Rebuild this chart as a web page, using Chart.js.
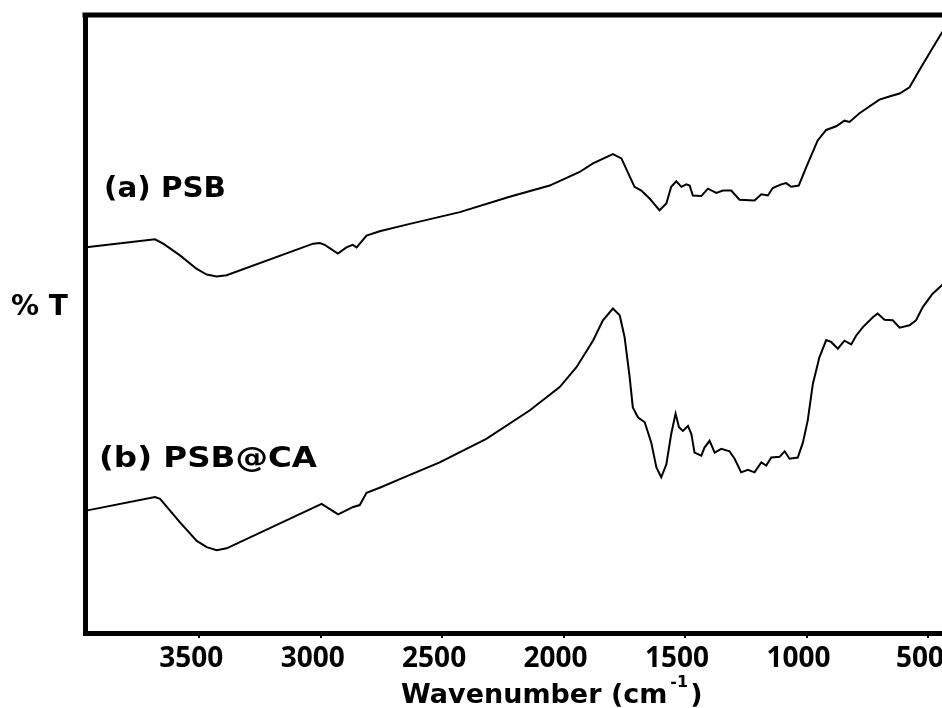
<!DOCTYPE html>
<html>
<head>
<meta charset="utf-8">
<script src="https://cdn.jsdelivr.net/npm/chart.js@4.4.1/dist/chart.umd.min.js"></script>
<style>
  html, body { margin: 0; padding: 0; background: #fff; }
  #wrap { width: 942px; height: 708px; overflow: hidden; position: relative; }
  canvas { display: block; }
</style>
</head>
<body>
<div id="wrap"><canvas id="c" width="962" height="708"></canvas></div>
<script>
// ---- Data ----
const xTicks = [3500, 3000, 2500, 2000, 1500, 1000, 500];

// (a) PSB
const psbWavenumber = [3965, 3682, 3648, 3579, 3510, 3469, 3428, 3387, 3031, 3003, 2983, 2929, 2894, 2868, 2852, 2811, 2757, 2633, 2427, 2222, 2057, 1934, 1879, 1797, 1762, 1708, 1680, 1646, 1605, 1577, 1557, 1536, 1515, 1495, 1481, 1468, 1433, 1406, 1371, 1344, 1310, 1276, 1214, 1186, 1159, 1139, 1104, 1084, 1063, 1032, 1001, 954, 919, 878, 844, 823, 782, 700, 659, 617, 576, 535, 494, 445, 400];
const psbT = [62.4, 63.7, 63.0, 61.1, 58.9, 58.0, 57.7, 57.9, 63.0, 63.1, 62.8, 61.4, 62.4, 62.8, 62.4, 64.3, 65.0, 66.2, 68.1, 70.6, 72.4, 74.6, 76.0, 77.5, 76.8, 72.2, 71.6, 70.3, 68.4, 69.5, 72.2, 73.1, 72.2, 72.6, 72.4, 70.8, 70.7, 71.9, 71.2, 71.6, 71.6, 70.1, 70.0, 71.0, 70.8, 72.0, 72.6, 72.8, 72.2, 72.4, 75.4, 79.7, 81.4, 82.0, 82.9, 82.7, 84.1, 86.3, 86.8, 87.3, 88.3, 91.1, 93.8, 97.0, 99.5];

// (b) PSB@CA
const psbcaWavenumber = [3965, 3682, 3661, 3579, 3510, 3469, 3428, 3387, 2996, 2928, 2866, 2839, 2811, 2757, 2674, 2510, 2318, 2140, 2016, 1947, 1879, 1838, 1797, 1769, 1749, 1728, 1715, 1694, 1666, 1639, 1618, 1598, 1577, 1557, 1539, 1525, 1509, 1488, 1474, 1461, 1433, 1420, 1399, 1378, 1351, 1317, 1296, 1269, 1241, 1214, 1186, 1166, 1145, 1111, 1090, 1070, 1036, 1015, 995, 974, 947, 919, 899, 871, 844, 816, 796, 768, 727, 707, 679, 645, 617, 576, 549, 522, 481, 445, 400];
const psbcaT = [19.8, 22.0, 21.7, 17.9, 14.9, 13.9, 13.4, 13.7, 20.9, 19.2, 20.4, 20.7, 22.7, 23.5, 24.9, 27.6, 31.4, 36.0, 39.8, 43.0, 47.3, 50.6, 52.5, 51.4, 47.9, 41.4, 36.5, 34.9, 34.1, 30.8, 26.8, 25.2, 27.3, 32.2, 35.5, 33.3, 32.7, 33.5, 32.2, 29.2, 28.7, 30.0, 31.1, 29.2, 29.8, 29.4, 28.2, 26.0, 26.4, 26.0, 27.6, 27.1, 28.4, 28.5, 29.4, 28.2, 28.4, 30.8, 34.4, 40.3, 44.6, 47.4, 47.1, 46.0, 47.3, 46.7, 48.1, 49.5, 51.1, 51.7, 50.7, 50.6, 49.4, 49.8, 50.6, 52.7, 54.9, 56.2, 58.0];

const seriesLabels = ['(a) PSB', '(b) PSB@CA'];
const xTitle = 'Wavenumber (cm';
const xTitleSup = '-1';
const yTitle = '% T';

const toPoints = (xs, ys) => xs.map((x, i) => ({ x: x, y: ys[i] }));

function fitText(ctx, text, x, y, width) {
  const w = ctx.measureText(text).width;
  ctx.save();
  ctx.translate(x, y);
  ctx.scale(width / w, 1);
  ctx.fillText(text, 0, 0);
  ctx.restore();
}

const decor = {
  id: 'decor',
  afterDraw(chart) {
    const ctx = chart.ctx;
    const a = chart.chartArea;
    ctx.save();
    // top frame line
    ctx.strokeStyle = '#000';
    ctx.lineWidth = 5;
    ctx.beginPath();
    ctx.moveTo(a.left - 2.5, a.top);
    ctx.lineTo(a.right, a.top);
    ctx.stroke();

    ctx.fillStyle = '#000';
    ctx.textBaseline = 'alphabetic';
    ctx.textAlign = 'left';
    // series labels
    ctx.font = 'bold 29px "DejaVu Sans"';
    fitText(ctx, seriesLabels[0], 104, 197, 122);
    ctx.font = 'bold 28px "DejaVu Sans"';
    fitText(ctx, seriesLabels[1], 99, 467, 218);
    // y title
    ctx.font = 'bold 28px "DejaVu Sans"';
    ctx.fillText(yTitle, 11, 315);
    // x title with superscript
    ctx.font = 'bold 27px "DejaVu Sans"';
    let x = 401;
    ctx.fillText(xTitle, x, 703);
    x += ctx.measureText(xTitle).width;
    ctx.font = 'bold 16px "DejaVu Sans"';
    ctx.fillText(xTitleSup, x + 3, 687);
    x += ctx.measureText(xTitleSup).width + 5;
    ctx.font = 'bold 27px "DejaVu Sans"';
    ctx.fillText(')', x, 703);
    ctx.restore();
  }
};

new Chart(document.getElementById('c'), {
  type: 'line',
  data: {
    datasets: [
      { label: seriesLabels[0], data: toPoints(psbWavenumber, psbT), borderColor: '#000', borderWidth: 2, pointRadius: 0, tension: 0, fill: false },
      { label: seriesLabels[1], data: toPoints(psbcaWavenumber, psbcaT), borderColor: '#000', borderWidth: 2, pointRadius: 0, tension: 0, fill: false }
    ]
  },
  options: {
    responsive: false,
    animation: false,
    devicePixelRatio: 1,
    layout: { padding: { left: 85, top: 15, right: 0, bottom: 0 } },
    plugins: { legend: { display: false }, tooltip: { enabled: false } },
    scales: {
      x: {
        type: 'linear',
        reverse: true,
        min: 360,
        max: 3970,
        afterBuildTicks: (s) => { s.ticks = xTicks.map(v => ({ value: v })); },
        afterFit: (s) => { s.height = 75; },
        grid: { display: true, drawOnChartArea: false, drawTicks: true, tickLength: 5, color: '#000', lineWidth: 2 },
        border: { display: true, color: '#000', width: 5 },
        ticks: {
          color: '#000',
          font: { family: '"Open Sans"', weight: 'bold', size: 28 },
          padding: 4,
          labelOffset: -8,
          maxRotation: 0,
          autoSkip: false,
          callback: (v) => String(v)
        }
      },
      y: {
        min: 0,
        max: 100,
        afterFit: (s) => { s.width = 0; },
        grid: { display: false },
        ticks: { display: false },
        border: { display: true, color: '#000', width: 5 }
      }
    }
  },
  plugins: [decor]
});
</script>
</body>
</html>
